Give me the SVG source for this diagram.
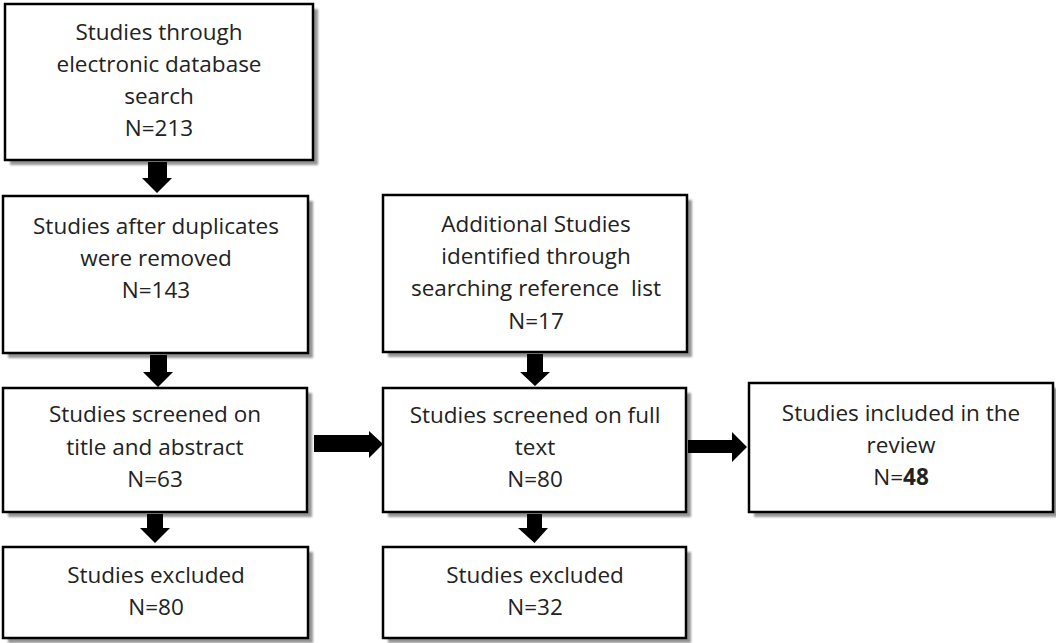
<svg xmlns="http://www.w3.org/2000/svg" width="1056" height="643" viewBox="0 0 1056 643">
<style>
.box{fill:#fff;stroke:#000;stroke-width:2.5}
.sh{fill:#959595}
.t{font-family:"Open Sans","Liberation Sans",sans-serif;font-size:22.5px;fill:#222;text-anchor:middle}
.arr{fill:#000}
</style>
<defs>
<filter id="blur" x="-5%" y="-5%" width="110%" height="110%"><feGaussianBlur stdDeviation="1.1"/></filter>
</defs>
<rect width="1056" height="643" fill="#fff"/>
<g id="n1">
<rect class="sh" x="10" y="9" width="308" height="156" filter="url(#blur)"/>
<rect class="box" x="5" y="4" width="308" height="156"/>
<text class="t" x="159" y="40">Studies through</text>
<text class="t" x="159" y="72">electronic database</text>
<text class="t" x="159" y="104">search</text>
<text class="t" x="159" y="136">N=213</text>
</g>
<g id="n2">
<rect class="sh" x="8" y="201" width="305" height="157" filter="url(#blur)"/>
<rect class="box" x="3" y="196" width="305" height="157"/>
<text class="t" x="156" y="234">Studies after duplicates</text>
<text class="t" x="156" y="266">were removed</text>
<text class="t" x="156" y="298">N=143</text>
</g>
<g id="n3">
<rect class="sh" x="388" y="200" width="304" height="157" filter="url(#blur)"/>
<rect class="box" x="383" y="195" width="304" height="157"/>
<text class="t" x="536" y="232">Additional Studies</text>
<text class="t" x="536" y="264">identified through</text>
<text class="t" x="536" y="296" xml:space="preserve">searching reference  list</text>
<text class="t" x="536" y="329">N=17</text>
</g>
<g id="n4">
<rect class="sh" x="8" y="393" width="304" height="124" filter="url(#blur)"/>
<rect class="box" x="3" y="388" width="304" height="124"/>
<text class="t" x="155" y="422">Studies screened on</text>
<text class="t" x="155" y="455">title and abstract</text>
<text class="t" x="155" y="487">N=63</text>
</g>
<g id="n5">
<rect class="sh" x="388" y="393" width="303" height="124" filter="url(#blur)"/>
<rect class="box" x="383" y="388" width="303" height="124"/>
<text class="t" x="535" y="423">Studies screened on full</text>
<text class="t" x="535" y="455">text</text>
<text class="t" x="535" y="487">N=80</text>
</g>
<g id="n6">
<rect class="sh" x="754" y="388" width="304" height="129" filter="url(#blur)"/>
<rect class="box" x="749" y="383" width="304" height="129"/>
<text class="t" x="901" y="421">Studies included in the</text>
<text class="t" x="901" y="453">review</text>
<text class="t" x="901" y="485">N=<tspan font-weight="bold">48</tspan></text>
</g>
<g id="n7">
<rect class="sh" x="8" y="552" width="305" height="91" filter="url(#blur)"/>
<rect class="box" x="3" y="547" width="305" height="91"/>
<text class="t" x="156" y="583">Studies excluded</text>
<text class="t" x="156" y="615">N=80</text>
</g>
<g id="n8">
<rect class="sh" x="388" y="552" width="303" height="91" filter="url(#blur)"/>
<rect class="box" x="383" y="547" width="303" height="91"/>
<text class="t" x="535" y="583">Studies excluded</text>
<text class="t" x="535" y="615">N=32</text>
</g>
<g id="connectors">
<polygon class="arr" points="148,162 167,162 167,178 172,178 157,193 142,178 148,178"/>
<polygon class="arr" points="150,355 167,355 167,372 173,372 158,387 143,372 150,372"/>
<polygon class="arr" points="527,354 543,354 543,372 550,372 535,386 520,372 527,372"/>
<polygon class="arr" points="147,514 163,514 163,528 170,528 155,543 140,528 147,528"/>
<polygon class="arr" points="527,514 542,514 542,528 548,528 534.5,543 518,528 527,528"/>
<polygon class="arr" points="314,435 369,435 369,431 383,444 369,458 369,452 314,452"/>
<polygon class="arr" points="688,440 732,440 732,432 747,447 732,462 732,453 688,453"/>
</g>
</svg>
